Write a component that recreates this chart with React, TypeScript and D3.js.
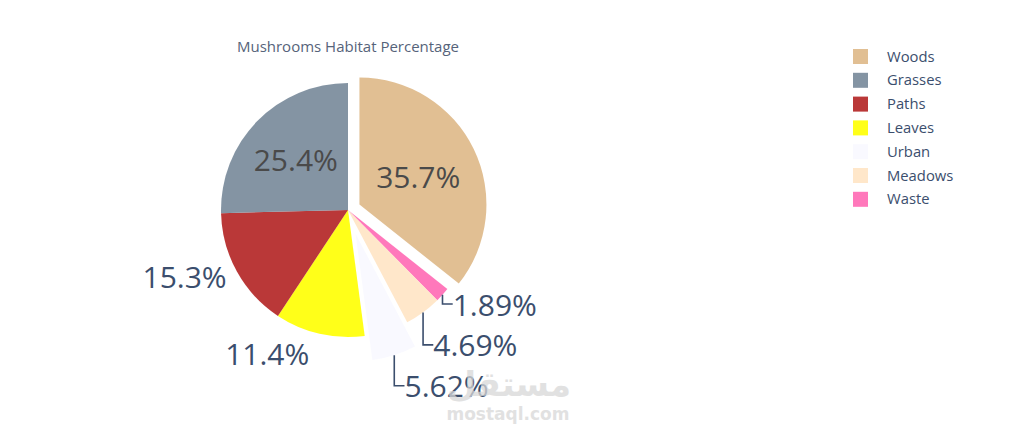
import React from 'react';
import * as d3 from 'd3';

// ---- data ----
const categories = ['Woods', 'Grasses', 'Paths', 'Leaves', 'Urban', 'Meadows', 'Waste'];
const percentages = [35.7, 25.4, 15.3, 11.4, 5.62, 4.69, 1.89];
const percentLabels = ['35.7%', '25.4%', '15.3%', '11.4%', '5.62%', '4.69%', '1.89%'];
const sliceColors = ['#deb887', '#778899', '#b22222', '#ffff00', '#f8f8ff', '#ffe4c4', '#ff69b4'];
const slicePull = [0.1, 0, 0, 0, 0.2, 0, 0];
// clockwise drawing order starting at 12 o'clock
const drawOrder = ['Woods', 'Waste', 'Meadows', 'Urban', 'Leaves', 'Paths', 'Grasses'];
const chartTitle = 'Mushrooms Habitat Percentage';

const W = 1019;
const H = 433;
const CX = 348;
const CY = 210;
const R = 127;
const FONT = "'Open Sans', 'Noto Sans', sans-serif";
const LABEL_SIZE = 30;
const TEXT_H = LABEL_SIZE * 1.362;
const TEXT_MID = LABEL_SIZE * 0.388; // baseline offset from bbox center
const OUT_COLOR = '#3b4e6d';

let ctx: CanvasRenderingContext2D | null = null;
function measure(text: string, size: number, font = FONT) {
  if (!ctx) ctx = document.createElement('canvas').getContext('2d');
  if (!ctx) return text.length * size * 0.56;
  ctx.font = `${size}px ${font}`;
  return ctx.measureText(text).width;
}

const pt = (a: number, r: number): [number, number] => [r * Math.sin(a), -r * Math.cos(a)];

export default function App() {
  const rows = drawOrder.map((name) => {
    const i = categories.indexOf(name);
    return { name, value: percentages[i], label: percentLabels[i], color: sliceColors[i], pull: slicePull[i] };
  });
  const pie = d3.pie<any>().sort(null).value((d: any) => d.value);
  const arcs = pie(rows);
  const arcGen = d3.arc<any>().innerRadius(0).outerRadius(R);

  type Lbl = {
    text: string; inside: boolean; x: number; y: number; w: number;
    px: number; py: number; right: boolean; lower: boolean; moved?: boolean;
  };
  const lbls: Lbl[] = arcs.map((a) => {
    const mid = (a.startAngle + a.endAngle) / 2;
    const half = (a.endAngle - a.startAngle) / 2;
    const [ox, oy] = pt(mid, a.data.pull * R);
    const w = measure(a.data.label, LABEL_SIZE);
    const cd = ((2 * R * Math.sin(half)) / (3 * half)) * 0.96;
    const [icx, icy] = pt(mid, cd);
    let fits = true;
    for (const sx of [-1, 1]) for (const sy of [-1, 1]) {
      const x = icx + (sx * w) / 2;
      const y = icy + (sy * TEXT_H) / 2;
      const r = Math.hypot(x, y);
      let ang = Math.atan2(x, -y);
      if (ang < 0) ang += 2 * Math.PI;
      if (r > R || ang < a.startAngle || ang > a.endAngle) fits = false;
    }
    if (fits) {
      return { text: a.data.label, inside: true, x: CX + ox + icx, y: CY + oy + icy, w, px: 0, py: 0, right: true, lower: false };
    }
    const [mx, my] = pt(mid, R);
    const dxS = mx < 0 ? -w / 2 : w / 2;
    const dyS = my < 0 ? -TEXT_H / 2 : TEXT_H / 2;
    const tx = dxS + (Math.abs(dyS) * (dxS > 0 ? 1 : -1)) / 2;
    const ty = dyS / (1 + (mx * mx) / (my * my));
    const px = CX + ox + mx;
    const py = CY + oy + my;
    return { text: a.data.label, inside: false, x: px + tx, y: py + ty, w, px, py, right: mx >= 0, lower: my >= 0 };
  });

  // scoot overlapping outside labels; labels in a pushed chain get leader lines
  for (const right of [true, false]) {
    for (const lower of [true, false]) {
      const g = lbls.filter((l) => !l.inside && l.right === right && l.lower === lower);
      g.sort((a, b) => (lower ? a.y - b.y : b.y - a.y));
      for (let k = 1; k < g.length; k++) {
        const prev = g[k - 1];
        let pushed = false;
        if (lower && g[k].y < prev.y + TEXT_H) { g[k].y = prev.y + TEXT_H; pushed = true; }
        if (!lower && g[k].y > prev.y - TEXT_H) { g[k].y = prev.y - TEXT_H; pushed = true; }
        if (pushed) { g[k].moved = true; prev.moved = true; }
      }
    }
  }

  const legendX = 853;
  const legendY0 = 49;
  const legendStep = 23.8;

  return (
    <svg width={W} height={H} style={{ position: 'absolute', left: 0, top: 0, background: '#fff' }}>
      <text x={CX} y={52} textAnchor="middle" fontFamily={FONT} fontSize={15} fill="#56637a">
        {chartTitle}
      </text>
      {arcs.map((a, i) => {
        const mid = (a.startAngle + a.endAngle) / 2;
        const [ox, oy] = pt(mid, a.data.pull * R);
        return (
          <path
            key={i}
            d={arcGen(a) as string}
            transform={`translate(${CX + ox},${CY + oy})`}
            fill={a.data.color}
            fillOpacity={0.9}
          />
        );
      })}
      {lbls.map((l, i) => {
        if (l.inside) {
          return (
            <text key={i} x={l.x} y={l.y + TEXT_MID} textAnchor="middle" fontFamily={FONT} fontSize={LABEL_SIZE} fill="#4a4a4a">
              {l.text}
            </text>
          );
        }
        const edge = l.right ? l.x - l.w / 2 : l.x + l.w / 2;
        return (
          <g key={i}>
            {l.moved && (
              <path d={`M${l.px},${l.py}V${l.y}H${edge}`} fill="none" stroke={OUT_COLOR} strokeWidth={1.6} />
            )}
            <text x={l.x} y={l.y + TEXT_MID} textAnchor="middle" fontFamily={FONT} fontSize={LABEL_SIZE} fill={OUT_COLOR}>
              {l.text}
            </text>
          </g>
        );
      })}
      {/* watermark */}
      <g fill="#d8d8d8" fontFamily="'DejaVu Sans', sans-serif" fontWeight="bold" opacity={0.75}>
        <text x={509} y={396} textAnchor="middle" fontSize={34}>مستقل</text>
        <text x={508} y={420} textAnchor="middle" fontSize={17}>mostaql.com</text>
      </g>
      {categories.map((c, i) => (
        <g key={c} transform={`translate(${legendX},${legendY0 + i * legendStep})`}>
          <rect width={15} height={15} fill={sliceColors[i]} fillOpacity={0.9} />
          <text x={34} y={12.5} fontFamily={FONT} fontSize={14.8} fill="#3b4e6d">
            {c}
          </text>
        </g>
      ))}
    </svg>
  );
}
